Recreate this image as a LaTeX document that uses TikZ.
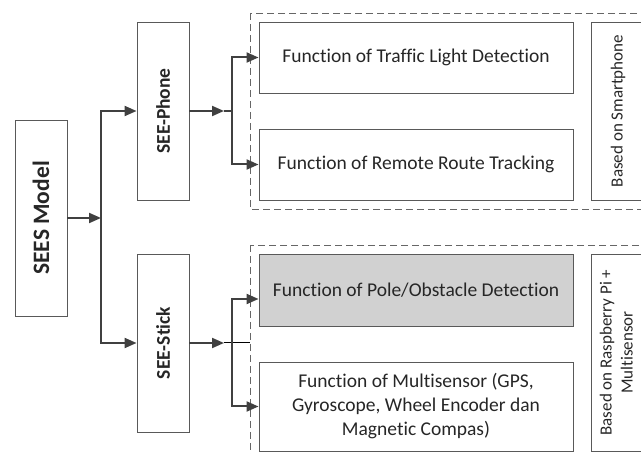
\documentclass[tikz,border=0pt]{standalone}
\usepackage{fontspec}
\setmainfont{Carlito}[Ligatures=NoCommon]
\usetikzlibrary{arrows.meta,positioning,calc}
\tikzset{blk/.style={draw=black!65,line width=0.9pt,align=center,inner sep=2pt,text=black!85},main/.style={blk,minimum width=52pt,font=\bfseries\fontsize{19.5}{23}\selectfont},func/.style={blk,minimum width=314pt,font=\fontsize{19.5}{24}\selectfont},basebox/.style={blk,minimum width=54pt,font=\fontsize{17}{21}\selectfont},group/.style={draw=black!60,line width=0.9pt,dash pattern=on 7pt off 4pt},arrow/.style={-{Triangle[length=12pt,width=10pt]},draw=black!75,line width=2pt},link/.style={draw=black!75,line width=2pt}}

\begin{document}
\begin{tikzpicture}[x=1pt,y=-1pt]
\useasboundingbox (0,0) rectangle (641,454);
\clip (0,0) rectangle (641,454);
% groups
\draw[group] (250,13) rectangle (660,209);
\draw[group] (250,245) rectangle (660,475);
% left column
\node[main,minimum height=196pt,font=\bfseries\fontsize{23.5}{28}\selectfont] (model) at (41,218) {\rotatebox{90}{SEES Model}};
\node[main,minimum height=178pt] (phone) at (163,111) {\rotatebox{90}{SEE-Phone}};
\node[main,minimum height=178pt] (stick) at (163,343) {\rotatebox{90}{SEE-Stick}};
% functions
\node[func,minimum height=71pt] (traffic) at (416,57.5) {Function of Traffic Light Detection};
\node[func,minimum height=71pt] (route) at (416,164.5) {Function of Remote Route Tracking};
\node[func,minimum height=72pt,fill=black!18] (pole) at (416,290) {Function of Pole/Obstacle Detection};
\node[func,minimum height=89pt] (multi) at (416,406.5) {Function of Multisensor (GPS,\\Gyroscope, Wheel Encoder dan\\Magnetic Compas)};
\node[basebox,minimum height=178pt] (smart) at (618,111) {\rotatebox{90}{Based on Smartphone}};
\node[basebox,minimum height=197pt] (rasp) at (618,352.5) {\rotatebox{90}{\begin{tabular}{@{}c@{}}Based on Raspberry Pi +\\Multisensor\end{tabular}}};
% connectors
\coordinate (msplit) at (101,218);
\coordinate (pend) at (224,111);
\coordinate (psplit) at (232,111);
\coordinate (send) at (224,343);
\coordinate (sdash) at (250,343);
\coordinate (ssplit) at (232,343);
\draw[arrow] (model.east) -- (msplit);
\draw[arrow] (msplit) |- (phone.west);
\draw[arrow] (msplit) |- (stick.west);
\draw[arrow] (phone.east) -- (pend);
\draw[link] (pend) -- (psplit);
\draw[arrow] (psplit) |- (traffic.west);
\draw[arrow] (psplit) |- (route.west);
\draw[arrow] (stick.east) -- (send);
\draw[draw=black,line width=1pt] (send) -- (sdash);
\draw[arrow] (ssplit) |- ([yshift=-9pt]pole.west);
\draw[arrow] (ssplit) |- (multi.west);
\end{tikzpicture}
\end{document}
